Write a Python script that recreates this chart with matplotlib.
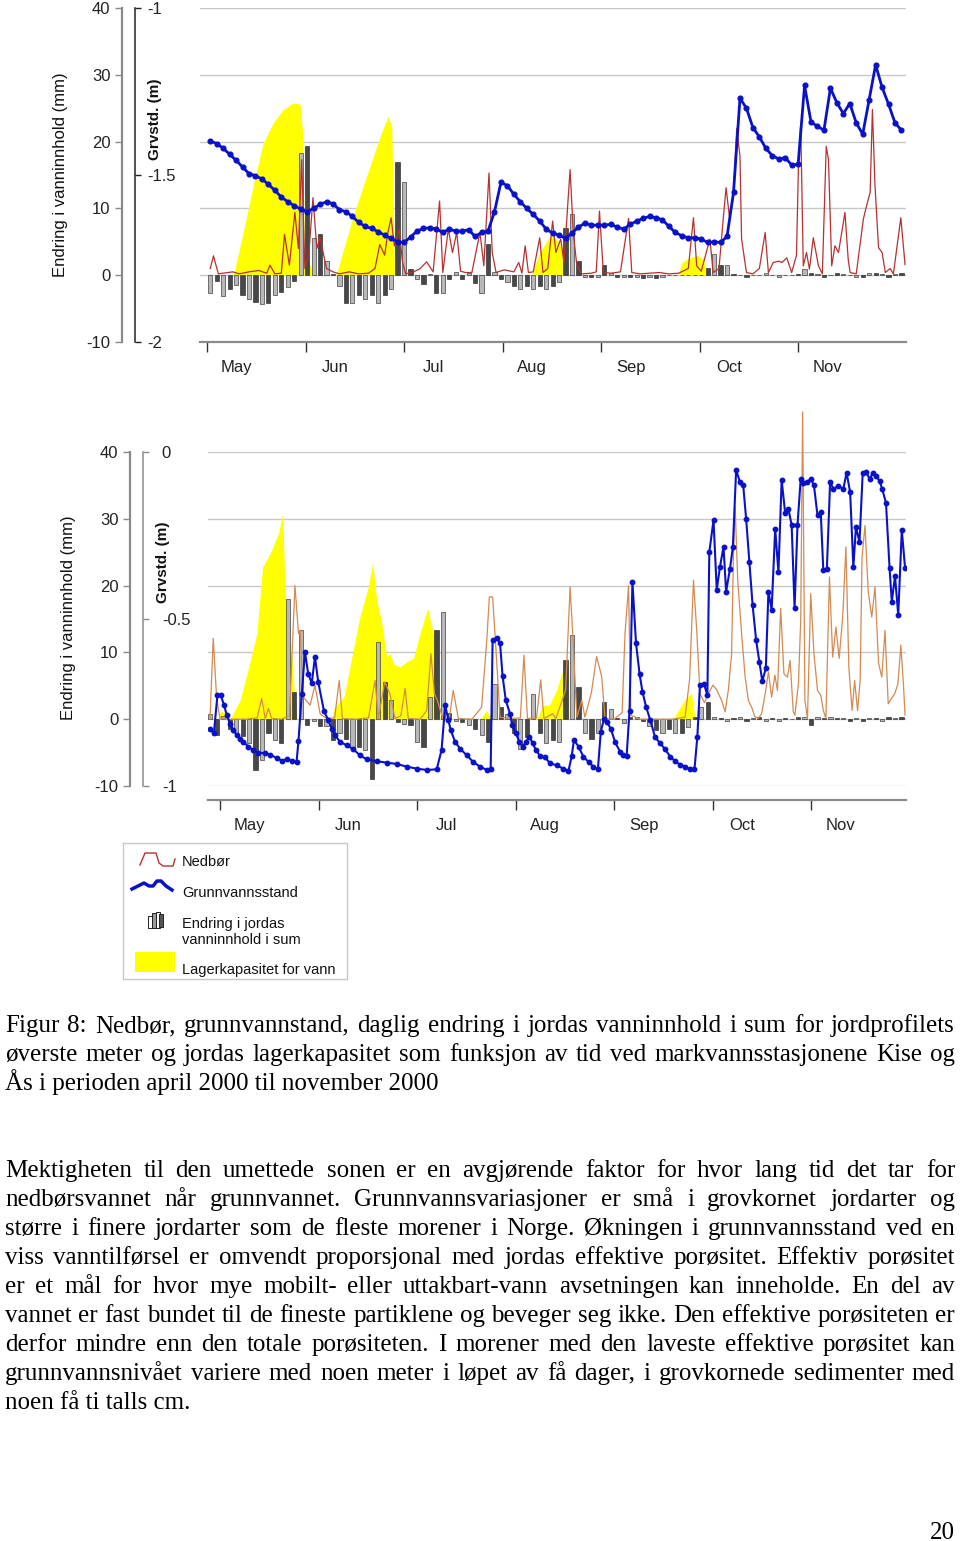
import numpy as np
import matplotlib
matplotlib.use("Agg")
import matplotlib.pyplot as plt
from matplotlib.patches import Rectangle

plt.rcParams['font.family'] = ['Liberation Sans', 'DejaVu Sans']
plt.rcParams['axes.unicode_minus'] = False
SERIF = ['Liberation Serif', 'DejaVu Serif']

months = ['May', 'Jun', 'Jul', 'Aug', 'Sep', 'Oct', 'Nov']
month_day = [0, 30.5, 61, 91.5, 122, 152.5, 183]

# ---------------- Kise (upper panel) ----------------
# day index counted from the May tick; bars and groundwater every 2nd day
kise_day = np.arange(1, 216, 2)
kise_bar = [
    -2.6, -0.8, -3.1, -2.0, -1.5, -3.0, -3.5, -4.0, -4.3, -4.2,
    -3.0, -2.5, -1.8, -0.8, 18.3, 19.3, 5.5, 6.1, 2.1, 0.2,
    -1.6, -4.1, -4.1, -3.0, -3.5, -3.0, -4.2, -3.0, -2.0, 17.0,
    14.0, 1.0, -0.5, -1.3, 0.2, -2.6, -2.6, -0.5, 0.5, -0.5,
    0.3, -1.1, -2.6, 4.6, 0.5, -0.5, -1.0, -1.6, -2.0, -1.6,
    -2.1, -1.6, -2.0, -1.6, -1.0, 7.1, 9.1, 2.1, -0.3, -0.3,
    -0.3, 1.6, 0.3, -0.3, -0.2, -0.3, -0.3, -0.4, -0.3, -0.4,
    -0.3, 0.0, 0.0, 0.0, 0.0, 0.0, 0.0, 1.1, 3.1, 1.6,
    1.6, 0.2, 0.0, -0.2, 0.0, 0.0, 0.3, 0.0, -0.2, 0.0,
    0.0, 0.2, 0.9, 0.4, 0.2, -0.2, 0.0, 0.3, 0.2, 0.0,
    -0.2, -0.3, 0.3, 0.3, 0.2, -0.2, 0.2, 0.3]
kise_gw = [
    -1.398, -1.406, -1.420, -1.438, -1.456, -1.476, -1.496, -1.502, -1.512, -1.528,
    -1.546, -1.566, -1.580, -1.592, -1.602, -1.610, -1.600, -1.588, -1.580, -1.586,
    -1.604, -1.610, -1.624, -1.642, -1.654, -1.660, -1.670, -1.680, -1.690, -1.700,
    -1.702, -1.686, -1.668, -1.660, -1.658, -1.662, -1.672, -1.662, -1.668, -1.668,
    -1.664, -1.684, -1.672, -1.668, -1.610, -1.522, -1.532, -1.558, -1.580, -1.600,
    -1.618, -1.638, -1.662, -1.674, -1.680, -1.690, -1.674, -1.656, -1.644, -1.650,
    -1.650, -1.650, -1.648, -1.656, -1.662, -1.648, -1.638, -1.630, -1.624, -1.628,
    -1.634, -1.654, -1.672, -1.682, -1.688, -1.688, -1.692, -1.702, -1.700, -1.702,
    -1.684, -1.552, -1.270, -1.300, -1.358, -1.386, -1.420, -1.442, -1.452, -1.448,
    -1.470, -1.468, -1.232, -1.342, -1.354, -1.366, -1.240, -1.284, -1.316, -1.286,
    -1.344, -1.378, -1.274, -1.170, -1.238, -1.288, -1.344, -1.366]
kise_rain_day = [
    1, 2, 3.5, 5, 8, 10, 13, 16, 18.5, 19.5,
    21, 23, 24, 25.5, 27.2, 28.3, 29.3, 30.3, 31.5, 32.8,
    34, 35, 37, 39, 41, 44, 47, 50, 52, 53.5,
    55, 56, 57, 58, 59.5, 60.5, 61.5, 64, 66, 68,
    70, 72, 73, 74.7, 76, 77.3, 78.5, 80, 82, 84.5,
    85.7, 87.3, 88.3, 89.5, 92, 95, 96.5, 97.5, 98.5, 99.5,
    101, 103, 104, 105.5, 107, 108, 109.5, 110.5, 112.4, 113.4,
    114.5, 116, 119, 120.5, 121.5, 122.7, 125, 128, 130.5, 131.5,
    134, 137, 140, 143, 146, 149, 150.6, 151.6, 153, 155.7,
    156.7, 158.5, 159.9, 160.7, 161.7, 162.9, 164, 165, 165.5, 167,
    169, 171, 172.8, 173.8, 175.3, 177, 178, 179.5, 181, 182.5,
    183.1, 183.8, 184.6, 185.6, 186.5, 187.7, 189.3, 190.5, 191.7, 192.4,
    193.4, 194.4, 195.5, 197.5, 198.5, 199.1, 201, 203.2, 204.2, 205.3,
    206, 206.8, 207.9, 209, 210, 211.5, 212.5, 214.8, 216.1]
kise_rain = [
    1.0, 2.9, 0.2, 0.3, 0.5, 0.2, 0.5, 0.7, 0.3, 1.5,
    0.2, 0.3, 6.1, 1.5, 9.4, 4.0, 17.3, 1.0, 3.0, 11.6,
    4.0, 5.6, 1.0, 0.5, 0.2, 0.5, 0.2, 0.3, 1.0, 4.6,
    3.0, 6.4, 8.6, 4.4, 6.9, 2.0, 0.2, 0.5, 1.0, 2.0,
    0.5, 11.1, 0.4, 6.9, 3.4, 6.4, 0.6, 0.4, 0.4, 6.4,
    1.4, 15.3, 3.4, 0.4, 0.8, 0.5, 1.9, 0.3, 4.4, 0.4,
    0.5, 5.6, 0.4, 1.0, 8.1, 3.4, 5.4, 1.9, 15.8, 6.4,
    1.4, 0.2, 0.3, 0.5, 9.6, 0.4, 0.3, 0.5, 8.5, 0.4,
    0.2, 0.3, 0.4, 0.2, 0.3, 1.0, 8.6, 1.4, 0.6, 5.4,
    0.4, 1.0, 8.9, 13.1, 8.9, 11.4, 22.0, 17.8, 5.4, 0.4,
    0.2, 1.0, 6.4, 0.4, 1.9, 2.1, 1.9, 2.6, 0.4, 3.0,
    16.3, 22.6, 1.4, 3.4, 0.9, 5.6, 1.4, 0.2, 19.3, 17.3,
    1.4, 4.4, 3.4, 9.4, 2.4, 0.4, 0.2, 8.4, 10.4, 12.4,
    24.8, 13.4, 4.1, 3.4, 0.4, 1.0, 0.2, 8.6, 1.6]
kise_lag_day = [8.2, 11.2, 14.3, 17.4, 20.5, 23.6, 26.7, 28.8, 29.6, 30.2,
                33.5, 40.0, 42.0, 45.3, 48.4, 51.5, 54.0, 56.1, 57.2, 58.0,
                58.5, 100.5, 103.0, 106.2, 108.3, 110.8, 111.4, 146.0, 147.0, 148.5,
                151.6, 153.7, 154.7]
kise_lag = [0, 6.4, 13.4, 19.8, 22.8, 24.8, 25.8, 25.6, 21.3, 3.0,
            0, 0, 3.4, 8.9, 13.4, 17.8, 21.3, 23.8, 22.1, 2.0,
            0, 0, 3.4, 5.9, 5.4, 3.4, 0, 0, 1.9, 2.4,
            3.0, 2.4, 0]

# ---------------- Ås (lower panel) ----------------
aas_bar_day = np.arange(-3, 212, 2)
aas_bar = [
    0.8, -2.4, 0.5, -1.5, -2.1, -2.5, -3.6, -7.6, -6.1, -2.1,
    -3.1, -3.6, 18.0, 4.0, 13.3, -0.9, -0.3, -1.0, -1.0, -3.1,
    -2.1, -3.0, -4.1, -4.1, -4.6, -8.9, 11.6, 5.6, 2.8, -0.4,
    -0.7, -0.8, -3.4, -4.1, 3.3, 13.3, 16.1, 1.0, -0.2, -0.4,
    -0.8, -1.4, -2.4, -3.4, 5.3, 1.8, 0.8, -2.1, -4.4, -2.6,
    3.8, -2.1, -3.6, -3.1, -3.4, 8.8, 12.6, 4.8, -2.1, -2.9,
    -2.0, 2.6, 1.6, 0.2, -0.6, 0.4, 0.3, -0.3, -1.0, -1.6,
    -2.1, -1.4, -2.1, -2.1, -1.2, 0.3, 1.8, 2.6, 0.3, 0.2,
    -0.2, 0.2, 0.3, -0.2, 0.2, 0.3, -0.2, 0.2, -0.3, 0.2,
    0.1, 0.3, 0.4, -0.9, 0.4, 0.2, 0.3, 0.2, 0.2, -0.2,
    0.2, -0.3, 0.2, 0.2, -0.2, 0.3, 0.2, 0.3]
aas_gw_day = [
    -3.1, -1.9, -0.8, 0.2, 1.2, 2.1, 3.1, 4.1, 5.2, 6.2,
    7.2, 8.8, 10.3, 11.9, 13.9, 15.5, 17.5, 19.1, 20.6, 22.2,
    23.7, 24.3, 25.3, 26.3, 27.3, 28.4, 29.4, 30.4, 32.2, 33.5,
    34.6, 35.6, 37.2, 39.2, 41.3, 43.3, 45.4, 48.5, 51.6, 54.7,
    57.8, 60.9, 64.0, 67.1, 68.6, 69.7, 70.7, 71.4, 72.8, 74.3,
    76.4, 78.4, 80.5, 82.6, 83.8, 84.4, 85.7, 86.7, 87.5, 88.5,
    89.8, 90.5, 91.6, 92.7, 93.7, 94.7, 95.8, 96.8, 97.8, 99.1,
    100.6, 102.2, 104.2, 106.3, 107.9, 108.9, 109.6, 111.0, 112.5, 114.1,
    115.6, 117.0, 117.9, 118.9, 119.7, 121.0, 122.3, 123.9, 124.9, 125.9,
    126.8, 127.7, 128.8, 129.9, 130.8, 131.9, 133.2, 134.7, 136.3, 137.8,
    139.4, 140.9, 142.5, 144.0, 145.5, 146.9, 147.8, 148.6, 149.9, 150.9,
    151.5, 152.8, 153.8, 154.8, 155.9, 156.7, 157.9, 158.8, 159.8, 161.0,
    162.0, 162.9, 163.9, 164.9, 166.0, 167.0, 167.9, 169.0, 169.8, 170.8,
    171.9, 172.9, 173.9, 175.0, 176.0, 177.0, 177.9, 178.8, 179.8, 180.6,
    181.9, 182.9, 183.9, 185.0, 186.0, 186.8, 187.9, 188.9, 189.9, 191.5,
    193.0, 194.0, 195.1, 196.1, 196.9, 198.0, 199.0, 200.0, 201.1, 202.1,
    203.1, 204.2, 205.0, 206.2, 207.3, 208.0, 209.0, 210.0, 211.1, 212.1]
aas_gw = [
    -0.830, -0.842, -0.728, -0.728, -0.756, -0.788, -0.814, -0.832, -0.848, -0.858,
    -0.868, -0.882, -0.892, -0.900, -0.902, -0.906, -0.916, -0.924, -0.920, -0.924,
    -0.928, -0.864, -0.726, -0.598, -0.664, -0.692, -0.614, -0.688, -0.776, -0.802,
    -0.828, -0.848, -0.868, -0.878, -0.890, -0.908, -0.920, -0.926, -0.930, -0.934,
    -0.942, -0.948, -0.952, -0.950, -0.892, -0.758, -0.802, -0.832, -0.868, -0.888,
    -0.908, -0.928, -0.942, -0.952, -0.950, -0.564, -0.558, -0.572, -0.672, -0.744,
    -0.784, -0.818, -0.842, -0.868, -0.882, -0.868, -0.852, -0.872, -0.892, -0.910,
    -0.914, -0.932, -0.938, -0.948, -0.954, -0.910, -0.862, -0.882, -0.912, -0.928,
    -0.942, -0.950, -0.838, -0.798, -0.808, -0.828, -0.868, -0.898, -0.908, -0.910,
    -0.774, -0.390, -0.572, -0.664, -0.718, -0.762, -0.802, -0.854, -0.872, -0.890,
    -0.912, -0.926, -0.936, -0.942, -0.950, -0.950, -0.852, -0.698, -0.696, -0.728,
    -0.300, -0.204, -0.412, -0.344, -0.284, -0.418, -0.350, -0.284, -0.054, -0.090,
    -0.100, -0.200, -0.330, -0.458, -0.564, -0.628, -0.686, -0.648, -0.418, -0.472,
    -0.230, -0.360, -0.084, -0.184, -0.170, -0.220, -0.466, -0.220, -0.080, -0.094,
    -0.090, -0.080, -0.100, -0.190, -0.180, -0.354, -0.350, -0.090, -0.110, -0.102,
    -0.110, -0.062, -0.120, -0.344, -0.224, -0.270, -0.062, -0.060, -0.080, -0.064,
    -0.072, -0.086, -0.110, -0.152, -0.346, -0.448, -0.372, -0.488, -0.234, -0.346]
aas_rain_day = [
    -3.1, -2.1, -1, 0, 3, 8, 11.5, 12.9, 14, 15,
    16, 19, 21.5, 23.2, 24.3, 24.8, 25.8, 27.9, 29.4, 31,
    33, 35.5, 36.9, 37.9, 42, 46, 48, 49, 50, 51,
    52.6, 54.2, 56, 57.3, 58.3, 62, 64, 65.3, 66.4, 67.3,
    69, 71, 72.2, 73.8, 78, 81, 82.6, 83.4, 84.4, 85.4,
    86.7, 90, 93, 94.1, 95.2, 98, 99.3, 100.3, 103, 104,
    107, 108.4, 109.2, 110.5, 112, 113, 115, 116.6, 118.2, 119.2,
    122, 124.5, 125.4, 126.5, 127.2, 130, 135, 140, 144, 145.4,
    146, 146.6, 147.6, 148.6, 150, 151.2, 152.6, 153.8, 155.3, 156.4,
    157.4, 158.4, 159, 159.5, 160.3, 161.5, 162.6, 163.6, 164.6, 165.6,
    166.6, 167.7, 168.8, 169.8, 170.8, 171.8, 172.6, 173.6, 174.6, 175.7,
    176.5, 177.5, 178, 179.1, 179.8, 180.4, 181.1, 181.9, 182.9, 183.9,
    185, 186, 186.8, 187.6, 188.7, 189.7, 190.7, 191.7, 192.8, 193.8,
    194.7, 195.7, 196.5, 197.4, 198.2, 198.8, 199.7, 200.7, 201.8, 202.8,
    203.9, 204.9, 205.9, 206.9, 207.9, 208.9, 209.9, 210.8, 211.6, 212.1]
aas_rain = [
    0, 12.1, 2.8, 0.1, 0, 0, 0.2, 3.1, 0.1, 1.6,
    0.1, 0, 0.5, 20.0, 12.8, 13.3, 3.3, 2.1, 5.1, 0.8,
    0.1, 0.2, 5.8, 0.1, 0, 0.2, 5.8, 0.1, 2.8, 5.6,
    3.8, 0.1, 0.5, 4.6, 0.1, 0, 1.3, 9.8, 3.8, 2.8,
    0.1, 0.2, 4.3, 0.1, 0, 1.8, 11.8, 18.3, 18.3, 10.8,
    0.3, 0.1, 0.2, 9.6, 0.1, 0.2, 5.9, 0.1, 0.8, 0.1,
    4.3, 19.8, 12.8, 0.3, 2.8, 0.3, 4.0, 9.4, 6.3, 0.1,
    0, 1.0, 12.8, 20.0, 0.6, 0, 0, 0, 0.3, 6.0,
    13.3, 20.8, 13.3, 3.8, 2.5, 3.8, 5.1, 4.4, 2.8, 1.1,
    4.4, 9.8, 25.3, 31.8, 20.8, 12.8, 6.3, 2.8, 1.8, 0.4,
    0.1, 0.8, 3.8, 7.1, 3.3, 6.6, 4.3, 16.6, 6.8, 6.3,
    8.8, 1.1, 0.6, 5.3, 14.8, 46.0, 2.8, 0.1, 18.8, 9.8,
    4.3, 3.6, 1.3, 0.1, 21.3, 9.3, 13.8, 9.1, 15.3, 25.8,
    7.8, 1.3, 5.8, 1.3, 5.8, 24.3, 29.0, 19.1, 15.3, 19.8,
    8.4, 6.3, 13.3, 2.3, 3.1, 3.8, 5.3, 11.1, 5.3, 0.6]
aas_lag_day = [-0.5, 0.0, 1.5, 2.0, 3.1, 6.2, 9.3, 11.4, 13.2, 15.5,
               18.1, 19.4, 20.1, 21.2, 22.2, 23.2, 23.7, 34.5, 35.5, 37.0,
               38.5, 40.2, 43.3, 45.9, 47.3, 48.5, 50.0, 51.6, 52.6, 53.7,
               55.7, 57.8, 59.9, 61.9, 64.3, 66.0, 67.6, 68.1, 80.5, 82.6,
               84.0, 98.0, 100.0, 102.0, 104.2, 107.6, 107.9, 140.4, 142.5, 144.5,
               146.0, 147.1]
aas_lag = [0, 1.1, 1.1, 0, 0, 2.8, 8.6, 12.8, 22.8, 24.8,
           27.8, 30.8, 19.8, 11.8, 9.8, 2.8, 0, 0, 1.8, 2.5,
           3.5, 7.8, 15.3, 19.8, 23.5, 17.8, 14.6, 9.3, 9.8, 8.3,
           7.8, 8.6, 9.1, 12.8, 16.6, 12.8, 11.8, 0, 0, 1.3,
           0, 0, 2.1, 2.1, 4.3, 9.6, 0, 0, 1.8, 3.3,
           3.8, 0]

caption = [
    "Figur 8: Nedbør, grunnvannstand, daglig endring i jordas vanninnhold i sum for jordprofilets",
    "øverste meter og jordas lagerkapasitet som funksjon av tid ved markvannsstasjonene Kise og",
    "Ås i perioden april 2000 til november 2000",
]
body = [
    "Mektigheten til den umettede sonen er en avgjørende faktor for hvor lang tid det tar for",
    "nedbørsvannet når grunnvannet. Grunnvannsvariasjoner er små i grovkornet jordarter og",
    "større i finere jordarter som de fleste morener i Norge. Økningen i grunnvannsstand ved en",
    "viss vanntilførsel er omvendt proporsjonal med jordas effektive porøsitet. Effektiv porøsitet",
    "er et mål for hvor mye mobilt- eller uttakbart-vann avsetningen kan inneholde. En del av",
    "vannet er fast bundet til de fineste partiklene og beveger seg ikke. Den effektive porøsiteten er",
    "derfor mindre enn den totale porøsiteten. I morener med den laveste effektive porøsitet kan",
    "grunnvannsnivået variere med noen meter i løpet av få dager, i grovkornede sedimenter med",
    "noen få ti talls cm.",
]

W, H = 960, 1541
fig = plt.figure(figsize=(W / 100, H / 100), dpi=100)


def box(l, t, r, b):
    return [l / W, 1 - b / H, (r - l) / W, (b - t) / H]


def panel(rect, xlim, bar_day, bar, gw_day, gw, gw_lim, gw_ticks, gw_labels,
          rain_day, rain, rain_col, lag_day, lag, gw_pos, gw_pad, gw_col, bottom_off,
          lw_gw, ms_gw):
    ax = fig.add_axes(rect)
    ax.set_xlim(*xlim)
    ax.set_ylim(-10, 40)
    ax.set_axisbelow(True)
    ax.grid(axis='y', color='#c8c8c8', lw=1)
    ax.fill_between(lag_day, lag, 0, color='#ffff00', lw=0, zorder=1)
    cols = ['#b8b8b8' if i % 2 == 0 else '#484848' for i in range(len(bar))]
    ax.bar(bar_day, bar, width=1.3, color=cols, edgecolor='#1a1a1a', linewidth=0.4, zorder=2)
    ax.plot(rain_day, rain, color=rain_col, lw=0.9, zorder=3, clip_on=False)

    for s in ['top', 'right']:
        ax.spines[s].set_visible(False)
    ax.spines['left'].set_position(('outward', 56))
    ax.spines['left'].set_color('#8a8a8a')
    ax.spines['left'].set_linewidth(1.6)
    ax.spines['bottom'].set_color('#8a8a8a')
    ax.spines['bottom'].set_linewidth(1.6)
    if bottom_off:
        ax.spines['bottom'].set_position(('outward', bottom_off))
    ax.set_yticks(range(-10, 41, 10))
    ax.tick_params(axis='y', length=5, width=1, color='#8a8a8a', pad=3.5,
                   labelsize=12, labelcolor='#222222')
    ax.set_xticks(month_day)
    ax.set_xticklabels([])
    ax.set_xticks([d + 9.2 for d in month_day], minor=True)
    ax.set_xticklabels(months, minor=True)
    ax.tick_params(axis='x', which='major', length=7, width=1, color='#333333')
    ax.tick_params(axis='x', which='minor', length=0, pad=13, labelsize=12,
                   labelcolor='#222222')

    ax2 = ax.twinx()
    ax2.set_ylim(*gw_lim)
    for s in ['top', 'left', 'bottom']:
        ax2.spines[s].set_visible(False)
    ax2.spines['right'].set_position(('axes', gw_pos))
    ax2.spines['right'].set_color(gw_col)
    ax2.spines['right'].set_linewidth(1.1)
    ax2.set_yticks(gw_ticks)
    ax2.set_yticklabels(gw_labels)
    ax2.tick_params(axis='y', length=4.5, width=1, color=gw_col, pad=gw_pad,
                    labelsize=12, labelcolor='#222222')
    ax2.plot(gw_day, gw, color='#0a12c8', lw=lw_gw, marker='o', ms=ms_gw,
             mec='#0a12c8', zorder=4)
    return ax, ax2


panel(box(200, 8, 906, 342), (-2.17, 216.4), kise_day, kise_bar, kise_day, kise_gw,
      (-2, -1), [-2, -1.5, -1], ['-2', '-1.5', '-1'],
      kise_rain_day, kise_rain, '#b83030', kise_lag_day, kise_lag,
      -0.092, 4, '#222222', 0, 2.0, 3.4)
panel(box(208, 452, 906, 786), (-3.72, 212.4), aas_bar_day, aas_bar, aas_gw_day, aas_gw,
      (-1, 0), [-1, -0.5, 0], ['-1', '-0.5', '0'],
      aas_rain_day, aas_rain, '#d48a50', aas_lag_day, aas_lag,
      -0.093, 9, '#8a8a8a', 10, 1.5, 3.2)

# axis titles
fig.text(60 / W, 1 - 175 / H, 'Endring i vanninnhold (mm)', rotation=90,
         ha='center', va='center', fontsize=12, color='#111111')
fig.text(155 / W, 1 - 119 / H, 'Grvstd. (m)', rotation=90, ha='center',
         va='center', fontsize=11, weight='bold', color='#111111')
fig.text(68 / W, 1 - 618 / H, 'Endring i vanninnhold (mm)', rotation=90,
         ha='center', va='center', fontsize=12, color='#111111')
fig.text(163 / W, 1 - 562 / H, 'Grvstd. (m)', rotation=90, ha='center',
         va='center', fontsize=11, weight='bold', color='#111111')

# legend box
lg = fig.add_axes(box(123, 843, 347, 979))
lg.set_xlim(0, 224)
lg.set_ylim(136, 0)
lg.set_xticks([])
lg.set_yticks([])
for s in lg.spines.values():
    s.set_color('#c8c8c8')
    s.set_linewidth(1)
lg.plot([17, 22, 33, 36, 40, 50, 52], [22, 10, 10, 20, 23, 23, 16], color='#b83030', lw=1)
lg.plot([9, 15, 21, 26, 30, 34, 38, 43, 49], [46, 43, 40, 43, 43, 38, 38, 43, 47],
        color='#0a12c8', lw=2.5)
for x0, y0, h, fc in [(25, 73, 12, '#ffffff'), (29, 70, 15, '#9a9a9a'),
                      (33, 69, 16, '#ffffff'), (36, 71, 13, '#555555')]:
    lg.add_patch(Rectangle((x0, y0), 3.5, h, fc=fc, ec='#222222', lw=0.7))
lg.add_patch(Rectangle((12, 109), 40, 20, fc='#ffff00', ec='none'))
for y, t in [(19, 'Nedbør'), (50, 'Grunnvannsstand'), (81, 'Endring i jordas'),
             (97, 'vanninnhold i sum'), (127, 'Lagerkapasitet for vann')]:
    lg.text(59, y, t, fontsize=10.5, va='center', ha='left', color='#111111')

# justified text blocks
renderer = fig.canvas.get_renderer()


def justify(lines, x0, x1, base0, step, size):
    for i, line in enumerate(lines):
        y = 1 - (base0 + i * step) / H
        if i == len(lines) - 1:
            fig.text(x0 / W, y, line, fontsize=size, family=SERIF, va='baseline')
            continue
        words = line.split()
        ts = [fig.text(0, y, w, fontsize=size, family=SERIF, va='baseline') for w in words]
        ws = [t.get_window_extent(renderer).width for t in ts]
        gap = (x1 - x0 - sum(ws)) / (len(words) - 1)
        x = x0
        for t, w in zip(ts, ws):
            t.set_x(x / W)
            x += w + gap


justify(caption, 5, 955, 1032, 29, 18)
justify(body, 5, 955, 1177, 29, 18)
fig.text(955 / W, 1 - 1539 / H, '20', fontsize=18, family=SERIF, ha='right', va='baseline')

fig.savefig('out.png', dpi=100)
